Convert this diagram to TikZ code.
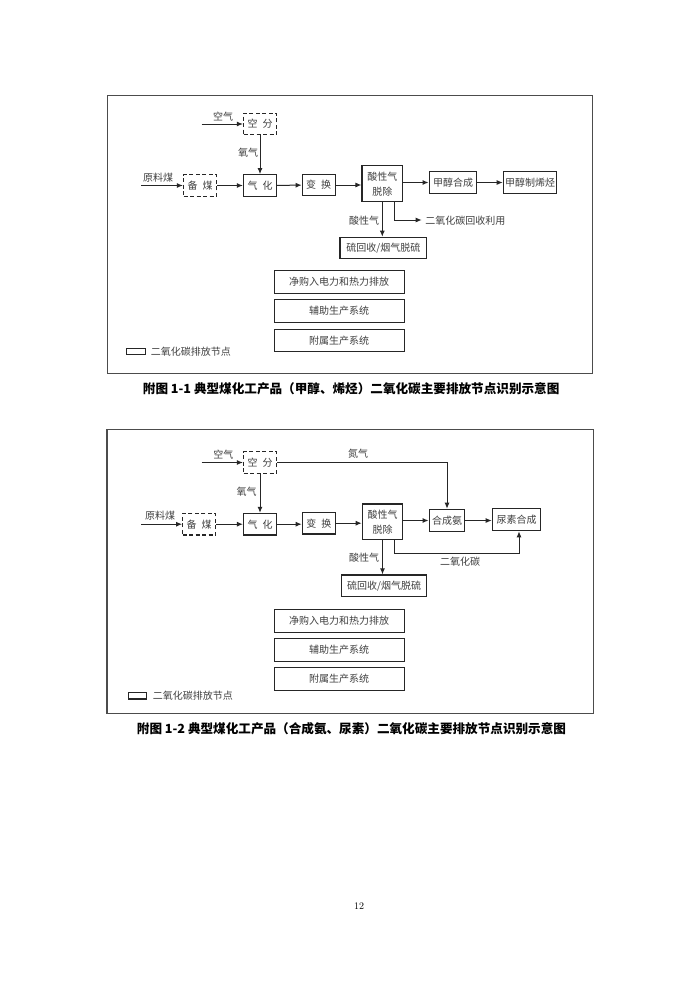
\documentclass[tikz,border=0pt]{standalone}
\usepackage{fontspec}
\newfontfamily\cjk{Noto Sans CJK SC}
\usetikzlibrary{arrows.meta,positioning,calc}
\tikzset{
  frame/.style={draw=black!70, line width=1.4pt},
  proc/.style={draw=black!85, line width=1.2pt, minimum height=21.6pt, inner sep=0pt,
    text=black!75, font=\cjk\fontsize{10}{15}\selectfont, align=center},
  dproc/.style={proc, dash pattern=on 4pt off 2.5pt},
  wide/.style={proc, line width=1pt, minimum width=130pt, minimum height=22.6pt},
  lab/.style={inner sep=0pt, text=black!75, font=\cjk\fontsize{10}{11}\selectfont},
  flow/.style={draw=black!85, line width=1pt, -{Latex[length=6pt,width=5pt]}},
  capt/.style={inner sep=0pt, anchor=west, font=\cjk\bfseries\fontsize{12.6}{14}\selectfont}
}
\begin{document}
\begin{tikzpicture}[x=1pt,y=-1pt]
  \fill[white] (0,0) rectangle (700,990);
  \useasboundingbox (0,0) rectangle (700,990);
  % figure 1-1
  \draw[frame] (107.3,95.7) rectangle (592.7,373.3);
  \node[dproc, minimum width=33pt] (kf1) at (260,124) {空\hspace{5pt}分};
  \node[dproc, minimum width=33pt] (bm1) at (200,185.5) {备\hspace{5pt}煤};
  \node[proc, minimum width=33pt] (qh1) at (260,185.5) {气\hspace{5pt}化};
  \node[proc, minimum width=33pt] (bh1) at (318.7,185) {变\hspace{5pt}换};
  \node[proc, minimum width=40.5pt, minimum height=36pt] (sx1) at (382.3,183.8) {酸性气\\脱除};
  \node[proc, minimum width=47.7pt] (jc1) at (453,182.5) {甲醇合成};
  \node[proc, minimum width=53.4pt] (jx1) at (530,182.5) {甲醇制烯烃};
  \node[proc, minimum width=86.7pt, minimum height=21pt] (ls1) at (383.3,247.8) {硫回收/烟气脱硫};
  \node[wide] (jg1) at (339,282) {净购入电力和热力排放};
  \node[wide] (fz1) at (339,311.2) {辅助生产系统};
  \node[wide] (fs1) at (339,340.5) {附属生产系统};
  \coordinate (air1) at (201.7,124);
  \coordinate (coal1) at (141,185.5);
  \coordinate (co1) at (421.7,220);
  \draw[flow] (air1) -- (kf1);
  \node[lab] at (223,117) {空气};
  \draw[flow] (coal1) -- (bm1);
  \node[lab] at (158,178) {原料煤};
  \draw[flow] (kf1) -- (qh1);
  \node[lab] at (248,153) {氧气};
  \draw[flow] (bm1) -- (qh1);
  \draw[flow] (qh1) -- (bh1);
  \draw[flow] (bh1.east) -- (bh1.east -| sx1.west);
  \draw[flow] (sx1.east |- jc1.west) -- (jc1.west);
  \draw[flow] (jc1) -- (jx1);
  \draw[flow] (sx1.south) -- (sx1.south |- ls1.north);
  \node[lab] at (364,220.7) {酸性气};
  \draw[flow] ($(sx1.south)+(12,0)$) |- (co1);
  \node[lab, anchor=west] at ($(co1)+(3.5,0.5)$) {二氧化碳回收利用};
  \node[draw=black!85, line width=1.1pt, minimum width=19pt, minimum height=6.5pt, inner sep=0pt] (lg1) at (136.2,351.3) {};
  \node[lab, right=4.5pt of lg1] {二氧化碳排放节点};
  \node[capt] (cap1) at (142.7,389) {附图 1-1 典型煤化工产品（甲醇、烯烃）二氧化碳主要排放节点识别示意图};
  % figure 1-2
  \draw[frame] (107,429.3) rectangle (593.7,713.3);
  \node[dproc, minimum width=33pt] (kf2) at (260,462.5) {空\hspace{5pt}分};
  \node[dproc, minimum width=33pt] (bm2) at (199.2,524.2) {备\hspace{5pt}煤};
  \node[proc, minimum width=33pt] (qh2) at (260,524.2) {气\hspace{5pt}化};
  \node[proc, minimum width=33pt] (bh2) at (318.8,523.2) {变\hspace{5pt}换};
  \node[proc, minimum width=40.5pt, minimum height=35.3pt] (sx2) at (382.5,521.7) {酸性气\\脱除};
  \node[proc, minimum width=35.7pt, minimum height=22.4pt] (hc2) at (447,520.5) {合成氨};
  \node[proc, minimum width=48.4pt, minimum height=22.4pt] (ns2) at (516.5,519.5) {尿素合成};
  \node[proc, minimum width=85pt, minimum height=21.7pt] (ls2) at (384.2,585.8) {硫回收/烟气脱硫};
  \node[wide, minimum height=23.3pt] (jg2) at (339,621) {净购入电力和热力排放};
  \node[wide] (fz2) at (339,649.7) {辅助生产系统};
  \node[wide, minimum height=23pt] (fs2) at (339,679.2) {附属生产系统};
  \coordinate (air2) at (201.7,462.5);
  \coordinate (coal2) at (141,524.2);
  \draw[flow] (air2) -- (kf2);
  \node[lab] at (223.3,455) {空气};
  \draw[flow] (coal2) -- (bm2);
  \node[lab] at (160,515.5) {原料煤};
  \draw[flow] (kf2) -- (qh2);
  \node[lab] at (246.7,491.7) {氧气};
  \draw[flow] (kf2.east) -| (hc2.north);
  \node[lab] at (358,454) {氮气};
  \draw[flow] (bm2) -- (qh2);
  \draw[flow] (qh2.east) -- (qh2.east -| bh2.west);
  \draw[flow] (bh2.east) -- (bh2.east -| sx2.west);
  \draw[flow] (sx2.east |- hc2.west) -- (hc2.west);
  \draw[flow] (hc2.east) -- (hc2.east -| ns2.west);
  \draw[flow] (sx2.south) -- (sx2.south |- ls2.north);
  \node[lab] at (364,557.3) {酸性气};
  \draw[flow] ($(sx2.south)+(12,0)$) -- ++(0,14) -| ($(ns2.south)+(2.5,0)$);
  \node[lab] at (460,561.7) {二氧化碳};
  \node[draw=black!85, line width=1.1pt, minimum width=18pt, minimum height=6.5pt, inner sep=0pt] (lg2) at (137.2,695.7) {};
  \node[lab, right=6pt of lg2] {二氧化碳排放节点};
  \node[capt] (cap2) at (136.7,729) {附图 1-2 典型煤化工产品（合成氨、尿素）二氧化碳主要排放节点识别示意图};
  \node[font=\fontsize{10}{12}\selectfont] (pg) at (359,906) {12};
\end{tikzpicture}
\end{document}
